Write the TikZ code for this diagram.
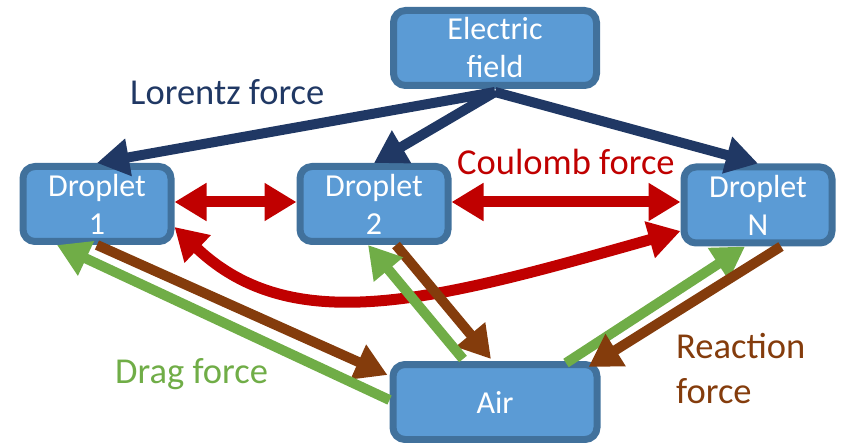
\documentclass[tikz,border=0pt]{standalone}
\usepackage{fontspec}
\setmainfont{Carlito}
\usetikzlibrary{arrows.meta,calc}
\definecolor{boxfill}{HTML}{5B9BD5}
\definecolor{boxline}{HTML}{41719C}
\definecolor{navyc}{HTML}{203864}
\definecolor{redc}{HTML}{C00000}
\definecolor{greenc}{HTML}{70AD47}
\definecolor{brownc}{HTML}{843C0C}
\begin{document}
\begin{tikzpicture}[x=1pt,y=-1pt,
  box/.style={draw=boxline, fill=boxfill, line width=7pt, rounded corners=12pt,
    text=white, align=center, font=\fontsize{32}{38}\selectfont, inner sep=0pt,
    minimum height=75pt},
  lbl/.style={anchor=base west, inner sep=0pt, font=\fontsize{36.5}{45}\selectfont},
  tip/.tip={Triangle[length=32pt,width=36pt]},
  force/.style={line width=10pt, -tip},
  coul/.style={line width=11pt, tip-tip, draw=redc}
]
\useasboundingbox (0,0) rectangle (842,443);

\node[box, minimum width=203pt] (ef) at (495,48) {Electric\\field};
\node[box, minimum width=148pt] (d1) at (97,204) {Droplet\\1};
\node[box, minimum width=148pt] (d2) at (374,204) {Droplet\\2};
\node[box, minimum width=148pt, minimum height=76pt] (dN) at (758,205) {Droplet\\N};
\node[box, minimum width=204pt] (air) at (495,402) {Air};

% Lorentz force
\draw[force, draw=navyc] ($(ef.south)+(0,3)$) -- (d1.north);
\draw[force, draw=navyc] ($(ef.south)+(0,3)$) -- (d2.north);
\draw[force, draw=navyc] ($(ef.south)+(0,3)$) -- (dN.north);

% Coulomb force
\draw[coul] ([yshift=2pt]d1.east) -- ([yshift=2pt]d2.west);
\draw[coul] ([yshift=2pt]d2.east) -- ([yshift=2pt]d2.east -| dN.west);
\draw[coul] ([yshift=-23pt]d1.east) .. controls +(119,113) and +(-244,69) .. ([yshift=-26pt]dN.west);

% Drag and reaction forces
\draw[force, draw=brownc] (d1.south) -- ($(air.north west)+(-2,14)$);
\draw[force, draw=greenc] ($(air.west)+(0,-2)$) -- ($(d1.south)+(-40,0)$);
\draw[force, draw=brownc] ($(d2.south)+(22,0)$) -- ($(air.north)+(-4,-2)$);
\draw[force, draw=greenc] ($(air.north)+(-32,-2)$) -- ($(d2.south)+(-6,0)$);
\draw[force, draw=greenc] ($(air.north)+(71,2)$) -- ($(dN.south)+(-13,0)$);
\draw[force, draw=brownc] ($(dN.south)+(23,0)$) -- ($(air.north east)+(-12,6)$);

% Labels
\node[lbl, text=navyc] (lorentz) at (130,105) {Lorentz force};
\node[lbl, text=redc] (coulomb) at (457,175) {Coulomb force};
\node[lbl, text=greenc] (drag) at (115,383) {Drag force};
\node[lbl, text=brownc] (reaction1) at (676,358) {Reaction};
\node[lbl, text=brownc] (reaction2) at (676,403) {force};
\end{tikzpicture}
\end{document}
